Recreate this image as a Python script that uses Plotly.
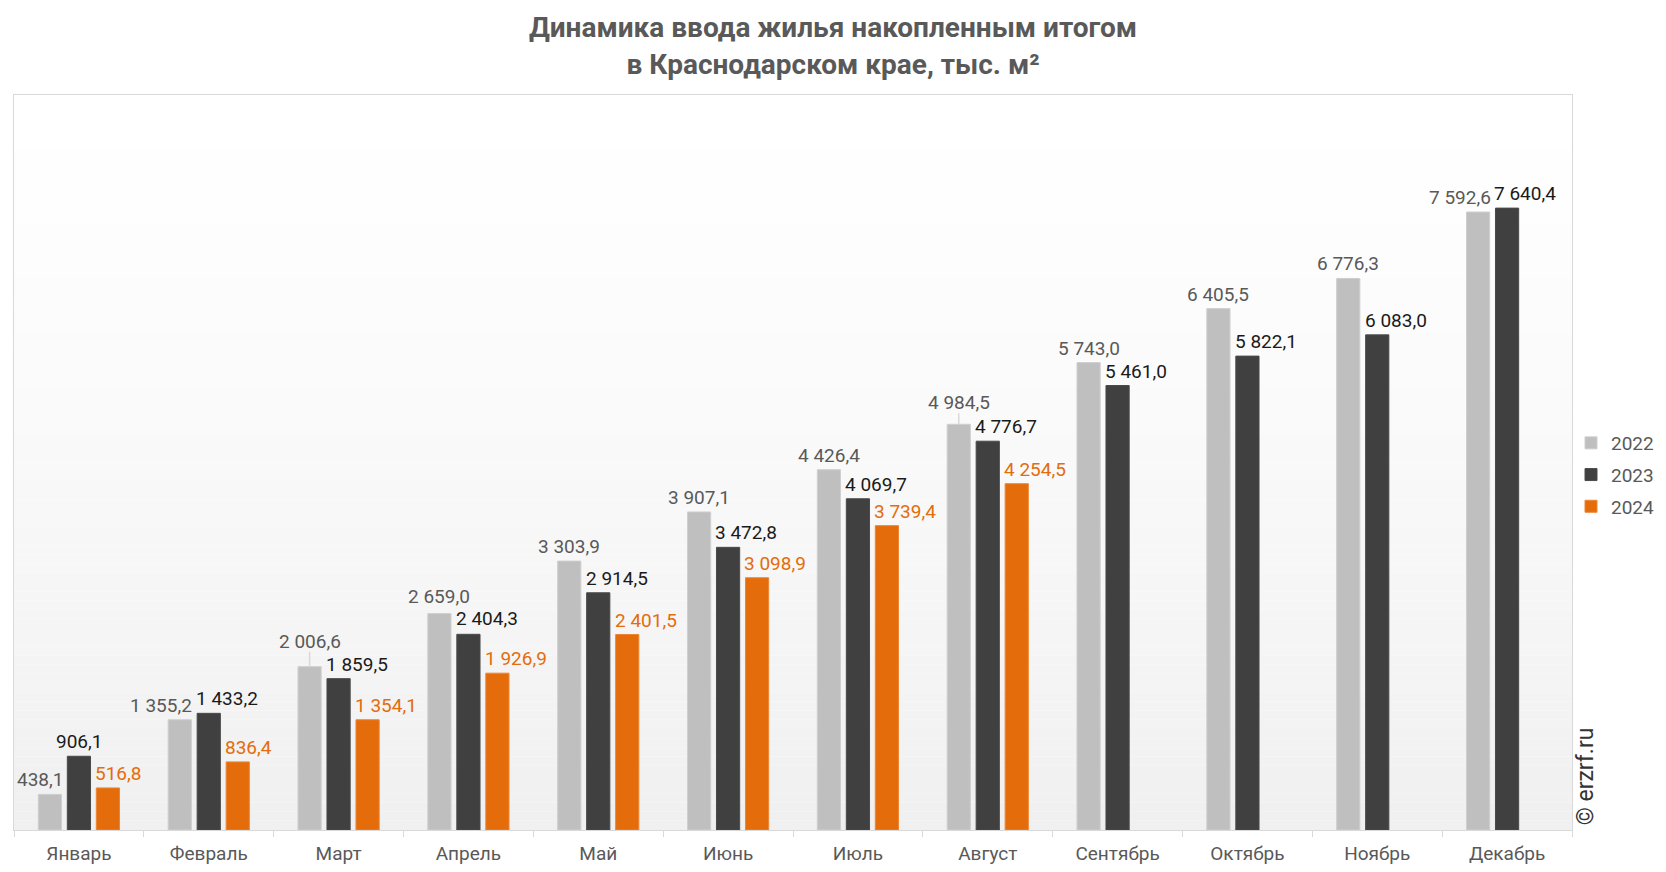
import plotly.graph_objects as go

months = ["Январь", "Февраль", "Март", "Апрель", "Май", "Июнь", "Июль",
          "Август", "Сентябрь", "Октябрь", "Ноябрь", "Декабрь"]
v2022 = [438.1, 1355.2, 2006.6, 2659.0, 3303.9, 3907.1, 4426.4, 4984.5,
         5743.0, 6405.5, 6776.3, 7592.6]
v2023 = [906.1, 1433.2, 1859.5, 2404.3, 2914.5, 3472.8, 4069.7, 4776.7,
         5461.0, 5822.1, 6083.0, 7640.4]
v2024 = [516.8, 836.4, 1354.1, 1926.9, 2401.5, 3098.9, 3739.4, 4254.5,
         None, None, None, None]
series_names = ["2022", "2023", "2024"]
series_values = [v2022, v2023, v2024]

FONT = "Roboto"
bar_colors = ["#bfbfbf", "#404040", "#e46c0a"]
text_colors = ["#595959", "#1a1a1a", "#e46c0a"]
line_colors = ["#cfcfcf", "#4a4a4a", "#ee8535"]

# label placement per series (styling): r = right edge, c = centre, l = left edge
label_align = [
    ["r", "r", "c", "c", "c", "c", "c", "c", "c", "c", "c", "r"],
    ["c", "l", "l", "l", "l", "l", "l", "l", "l", "l", "l", "l"],
    ["l"] * 12,
]
# extra vertical lift of labels in pixels (styling), leader line drawn if large
label_lift = [
    [0, 0, 11, 3, 0, 0, 0, 7, 0, 0, 0, 0],
    [0, 0, 0, 1, 0, 0, 0, 0, 0, 0, 0, 0],
    [0] * 12,
]

# layout geometry (pixels)
W, H = 1666, 872
ML, MR, MT, MB = 14, 94, 95, 42
BARGAP, GROUPGAP = 0.33, 0.2
plot_w = W - ML - MR
cat_w = plot_w / len(months)
slot = cat_w * (1 - BARGAP) / 3
bar_w = slot * (1 - GROUPGAP)

fig = go.Figure()
annotations = []
shapes = []

# gradient background for the plot area
N = 80
for i in range(N):
    t = i / (N - 1)
    c = int(round(255 - (255 - 240) * t ** 1.3))
    shapes.append(dict(type="rect", xref="paper", yref="paper",
                       x0=0, x1=1, y0=1 - (i + 1) / N, y1=1 - i / N,
                       fillcolor=f"rgb({c},{c},{c})", line=dict(width=0),
                       layer="below"))

for k, (name, vals, bc, lc, tc) in enumerate(zip(series_names, series_values,
                                                  bar_colors, line_colors, text_colors)):
    fig.add_trace(go.Bar(
        x=months, y=vals, name=name, legendgroup=name,
        marker=dict(color=bc, line=dict(color=lc, width=1)),
        hoverinfo="x+y+name",
    ))
    centre = (k - 1) * slot
    for m, v, al, lift in zip(months, vals, label_align[k], label_lift[k]):
        if v is None:
            continue
        if al == "l":
            xs, xa = centre - bar_w / 2 - 3, "left"
        elif al == "r":
            xs, xa = centre + bar_w / 2 + 3, "right"
        else:
            xs, xa = centre, "center"
        annotations.append(dict(
            x=m, y=v, xref="x", yref="y",
            text=f"{v:,.1f}".replace(",", " ").replace(".", ","),
            showarrow=False, xanchor=xa, yanchor="bottom", xshift=xs, yshift=1 + lift,
            font=dict(family=FONT, size=19, color=tc)))
        if lift >= 5:
            shapes.append(dict(type="line", xref="x", yref="y",
                               xsizemode="pixel", ysizemode="pixel",
                               xanchor=m, yanchor=v,
                               x0=centre, x1=centre, y0=0, y1=lift + 4,
                               line=dict(color="#d9d9d9", width=1.5),
                               layer="above"))

annotations.append(dict(text="© erzrf.ru", xref="paper", yref="paper",
                        x=1.0092, y=0.0735, textangle=-90, showarrow=False,
                        xanchor="center", yanchor="middle",
                        font=dict(family=FONT, size=23, color="#333333")))

fig.update_layout(
    width=W, height=H,
    margin=dict(l=ML, r=MR, t=MT, b=MB, autoexpand=False),
    paper_bgcolor="white", plot_bgcolor="white",
    barmode="group", bargap=BARGAP, bargroupgap=GROUPGAP,
    shapes=shapes,
    annotations=annotations,
    title=dict(text="Динамика ввода жилья накопленным итогом<br>в Краснодарском крае, тыс. м²",
               x=0.5, xanchor="center", y=0.957, yanchor="top",
               font=dict(family=FONT, size=28, color="#595959", weight="bold")),
    font=dict(family=FONT, size=19, color="#595959"),
    legend=dict(xref="container", yref="container", x=1571 / W, xanchor="left",
                y=1 - 475 / H, yanchor="middle",
                font=dict(family=FONT, size=19, color="#595959"),
                bgcolor="rgba(0,0,0,0)", tracegroupgap=4, itemwidth=30),
    xaxis=dict(showline=True, linecolor="#d9d9d9", linewidth=1, mirror=True,
               ticks="outside", tickson="boundaries", ticklen=6,
               tickcolor="#d9d9d9", ticklabelstandoff=6,
               tickfont=dict(family=FONT, size=19, color="#595959"),
               showgrid=False),
    yaxis=dict(range=[0, 9030], showticklabels=False, showgrid=False,
               zeroline=False, showline=True, linecolor="#d9d9d9",
               mirror=True, ticks=""),
)

fig.write_html("out.html")
